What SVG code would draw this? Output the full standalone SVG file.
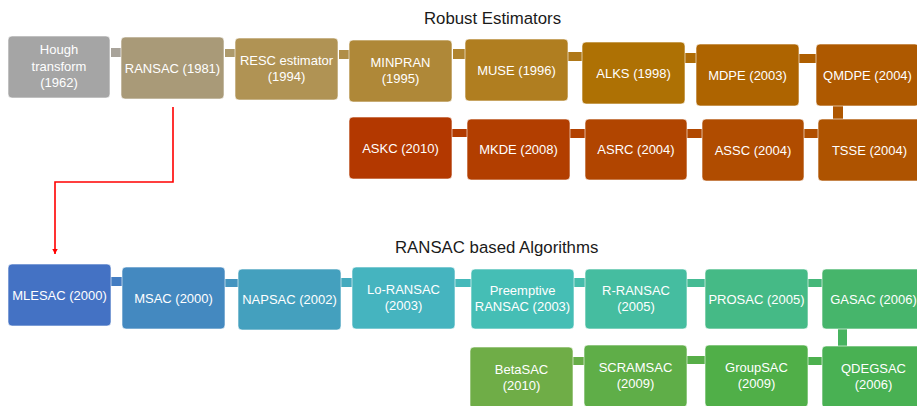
<svg xmlns="http://www.w3.org/2000/svg" width="917" height="406" viewBox="0 0 917 406">
<defs>
<style>
.title{font-family:"Liberation Sans",Arial,sans-serif;font-size:16.8px;fill:#1a1a1a}
.box rect{rx:4px;ry:4px;stroke:#ffffff;stroke-opacity:0.6;stroke-width:1}
.box text{font-family:"Liberation Sans",Arial,sans-serif;font-size:13px;fill:#ffffff;text-anchor:middle}
.link{stroke:none}
.arrow{fill:none;stroke:#ff0000;stroke-width:1.6}
</style>
<marker id="ah" markerUnits="userSpaceOnUse" markerWidth="8" markerHeight="8" refX="5.5" refY="3" orient="auto">
<path d="M0,0 L5.5,3 L0,6 z" fill="#ff0000"/>
</marker>
</defs>
<rect width="917" height="406" fill="#ffffff"/>
<text class="title" x="424" y="23.5">Robust Estimators</text>
<text class="title" x="395" y="253">RANSAC based Algorithms</text>

<g id="connectors">
<g class="link">
<rect x="111" y="48" width="10" height="9" fill="#a8a39a"/>
<rect x="225" y="49" width="10" height="8" fill="#ad9a6c"/>
<rect x="339" y="50" width="10" height="9" fill="#b08e48"/>
<rect x="453" y="49" width="12" height="10" fill="#b0842f"/>
<rect x="568" y="52" width="14" height="9" fill="#af7818"/>
<rect x="685" y="53" width="11" height="10" fill="#ae6b05"/>
<rect x="799" y="54" width="17" height="9" fill="#ae5e00"/>
<rect x="833" y="105" width="10" height="14" fill="#ae5600"/>
<rect x="452" y="129" width="15" height="8" fill="#b23b00"/>
<rect x="570" y="129" width="15" height="9" fill="#b24100"/>
<rect x="687" y="129" width="15" height="9" fill="#b14800"/>
<rect x="804" y="129" width="14" height="9" fill="#b04f00"/>
<rect x="111" y="277" width="11" height="9" fill="#447dc2"/>
<rect x="225" y="279" width="13" height="8" fill="#4494bf"/>
<rect x="341" y="278" width="11" height="9" fill="#44aabe"/>
<rect x="455" y="279" width="16" height="8" fill="#45b9ba"/>
<rect x="574" y="278" width="11" height="9" fill="#45bdab"/>
<rect x="687" y="279" width="18" height="8" fill="#45bb93"/>
<rect x="808" y="279" width="14" height="8" fill="#45b779"/>
<rect x="838" y="329" width="9" height="17" fill="#47b35f"/>
<rect x="573" y="357" width="11" height="8" fill="#67ad47"/>
<rect x="687" y="356" width="18" height="8" fill="#57ae48"/>
<rect x="808" y="357" width="14" height="8" fill="#4cb04e"/>
</g>
<path class="arrow" d="M173,107 V182 H55 V254" marker-end="url(#ah)"/>
</g>

<g id="hough" class="box"><rect x="8" y="36" width="102" height="62" fill="#a5a5a5"/><text x="59" y="54">Hough</text><text x="59" y="70.5">transform</text><text x="59" y="87">(1962)</text></g>
<g id="ransac" class="box"><rect x="121" y="37" width="103" height="62" fill="#a99a78"/><text x="172.5" y="73">RANSAC (1981)</text></g>
<g id="resc" class="box"><rect x="235" y="38" width="103" height="62" fill="#b09354"/><text x="286.5" y="65">RESC estimator</text><text x="286.5" y="81">(1994)</text></g>
<g id="minpran" class="box"><rect x="349" y="40" width="103" height="62" fill="#af8838"/><text x="400.5" y="67">MINPRAN</text><text x="400.5" y="83">(1995)</text></g>
<g id="muse" class="box"><rect x="465" y="39" width="103" height="62" fill="#b07e20"/><text x="516.5" y="74.5">MUSE (1996)</text></g>
<g id="alks" class="box"><rect x="582" y="42" width="103" height="62" fill="#ae7104"/><text x="633.5" y="77.5">ALKS (1998)</text></g>
<g id="mdpe" class="box"><rect x="696" y="44" width="103" height="62" fill="#ae6400"/><text x="747.5" y="79.5">MDPE (2003)</text></g>
<g id="qmdpe" class="box"><rect x="816" y="44" width="103" height="62" fill="#ae5900"/><text x="867.5" y="79.5">QMDPE (2004)</text></g>
<g id="tsse" class="box"><rect x="818" y="119" width="103" height="62" fill="#ae5300"/><text x="869.5" y="154.5">TSSE (2004)</text></g>
<g id="assc" class="box"><rect x="702" y="119" width="102" height="62" fill="#b04c00"/><text x="753" y="154.5">ASSC (2004)</text></g>
<g id="asrc" class="box"><rect x="585" y="119" width="102" height="61" fill="#b14500"/><text x="636" y="154">ASRC (2004)</text></g>
<g id="mkde" class="box"><rect x="467" y="119" width="103" height="61" fill="#b23e00"/><text x="518.5" y="154">MKDE (2008)</text></g>
<g id="askc" class="box"><rect x="349" y="117" width="103" height="62" fill="#b33800"/><text x="400.5" y="152.5">ASKC (2010)</text></g>

<g id="mlesac" class="box"><rect x="8" y="264" width="103" height="62" fill="#4472c4"/><text x="59.5" y="299.5">MLESAC (2000)</text></g>
<g id="msac" class="box"><rect x="122" y="267" width="103" height="62" fill="#4489c0"/><text x="173.5" y="302.5">MSAC (2000)</text></g>
<g id="napsac" class="box"><rect x="238" y="269" width="103" height="61" fill="#44a0be"/><text x="289.5" y="304">NAPSAC (2002)</text></g>
<g id="loransac" class="box"><rect x="352" y="267" width="103" height="62" fill="#45b4bf"/><text x="403.5" y="294">Lo-RANSAC</text><text x="403.5" y="310">(2003)</text></g>
<g id="preemptive" class="box"><rect x="471" y="269" width="103" height="60" fill="#45beb5"/><text x="522.5" y="295">Preemptive</text><text x="522.5" y="311">RANSAC (2003)</text></g>
<g id="rransac" class="box"><rect x="585" y="269" width="102" height="60" fill="#45bda0"/><text x="636" y="295">R-RANSAC</text><text x="636" y="311">(2005)</text></g>
<g id="prosac" class="box"><rect x="705" y="269" width="103" height="60" fill="#45ba86"/><text x="756.5" y="303.5">PROSAC (2005)</text></g>
<g id="gasac" class="box"><rect x="822" y="269" width="103" height="60" fill="#46b56b"/><text x="873.5" y="303.5">GASAC (2006)</text></g>
<g id="qdegsac" class="box"><rect x="822" y="346" width="103" height="62" fill="#49b153"/><text x="873.5" y="372.5">QDEGSAC</text><text x="873.5" y="389">(2006)</text></g>
<g id="groupsac" class="box"><rect x="705" y="345" width="103" height="62" fill="#50af48"/><text x="756.5" y="371.5">GroupSAC</text><text x="756.5" y="388">(2009)</text></g>
<g id="scramsac" class="box"><rect x="584" y="345" width="103" height="62" fill="#5fae48"/><text x="635.5" y="371.5">SCRAMSAC</text><text x="635.5" y="388">(2009)</text></g>
<g id="betasac" class="box"><rect x="470" y="347" width="103" height="62" fill="#6fad47"/><text x="521.5" y="373.5">BetaSAC</text><text x="521.5" y="390">(2010)</text></g>
</svg>
